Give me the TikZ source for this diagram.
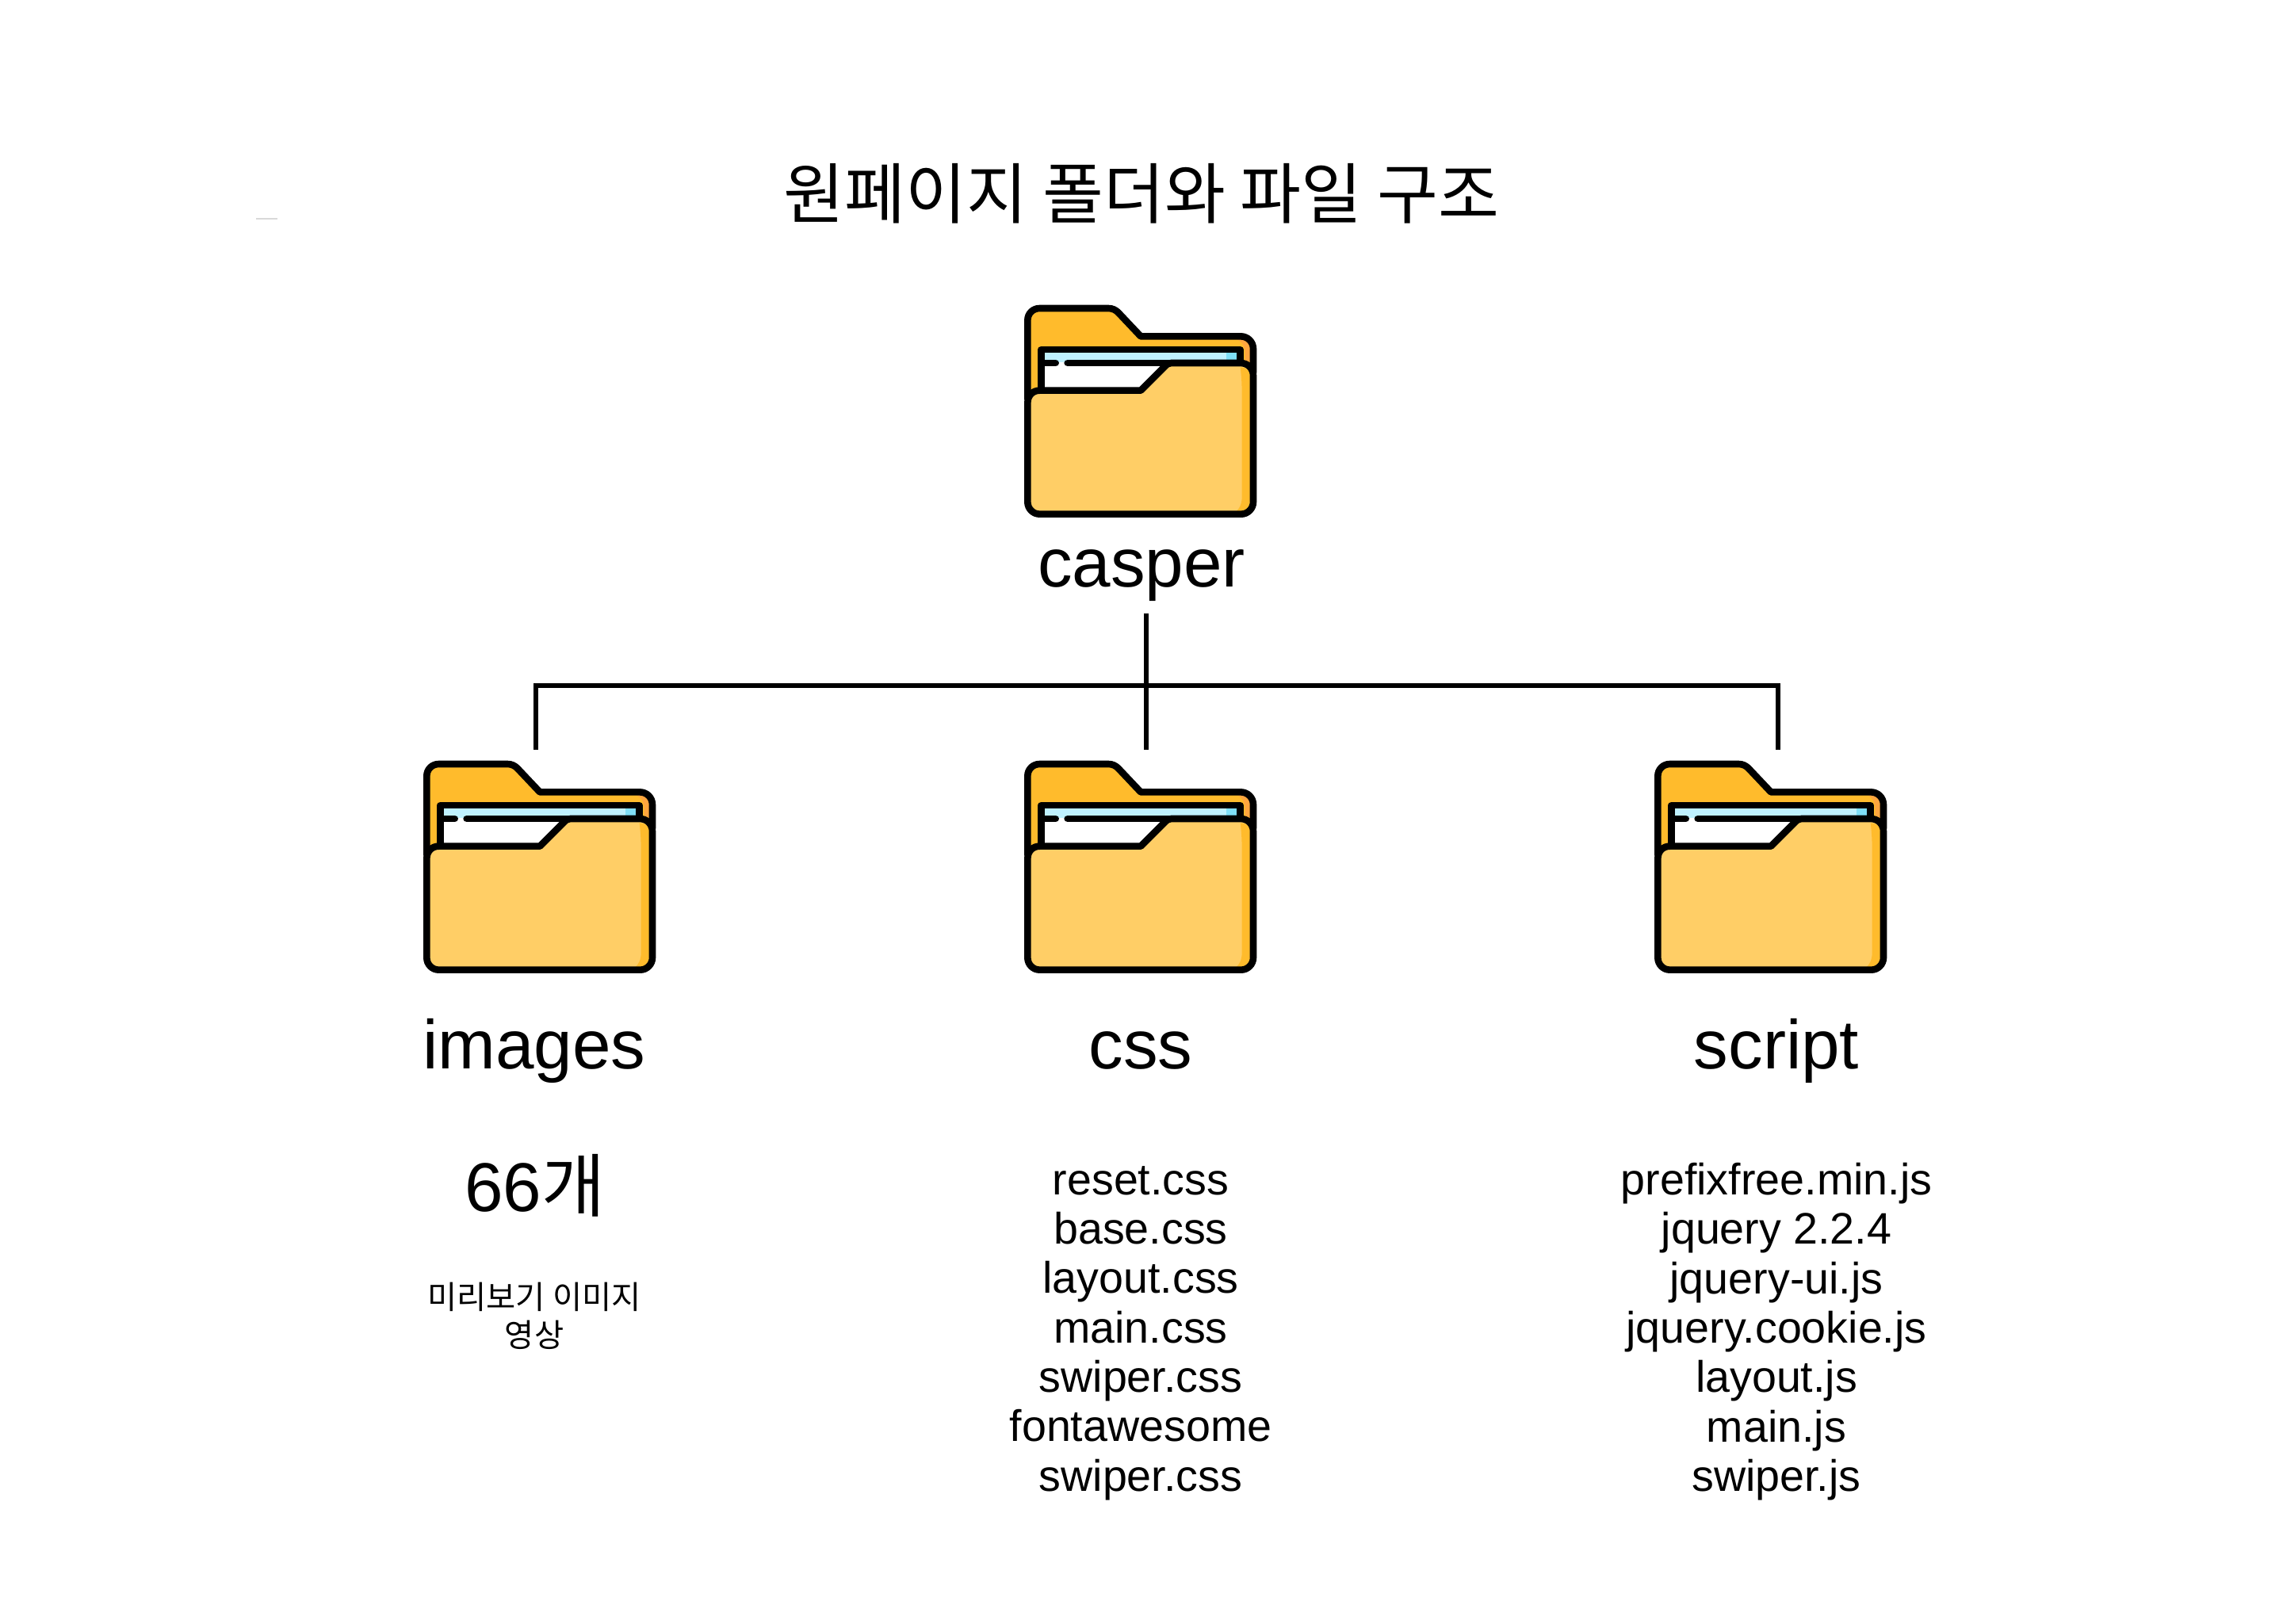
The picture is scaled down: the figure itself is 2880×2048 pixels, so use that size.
\documentclass[tikz,border=0pt]{standalone}
\usepackage{fontspec}
\setmainfont{Liberation Sans}
\newfontfamily\krfont{Noto Sans CJK KR}
\definecolor{foldback}{HTML}{FFBB2C}
\definecolor{foldfront}{HTML}{FFCE66}
\definecolor{foldedge}{HTML}{FFA63F}
\definecolor{tabblue}{HTML}{BFF1FF}
\definecolor{tabdeep}{HTML}{7FDFF7}
\tikzset{
  ink/.style={draw=black,line width=2.15pt,line join=round,line cap=round},
  folderpic/.pic={
    \begin{scope}[scale=1/3]
    % back leaf
    \fill[foldback] (79,420) -- (79,102) .. controls (79,77) and (99,57) .. (124,57) -- (385,57) .. controls (400,57) and (412,63) .. (422,73) -- (507,163) -- (885,163) .. controls (912,163) and (933,184) .. (933,211) -- (933,420) -- cycle;
    \fill[foldedge] (868,172) .. controls (895,185) and (902,205) .. (902,225) -- (902,252) -- (925,262) -- (925,215) .. controls (925,190) and (905,172) .. (880,172) -- cycle;
    % paper
    \fill[white] (131,213) rectangle (883,372);
    \fill[tabblue] (143,225) rectangle (870,262);
    \fill[tabdeep] (830,225) rectangle (870,252);
    \draw[ink] (131,370) -- (131,213) -- (883,213) -- (883,262);
    \draw[ink] (143,264) -- (185,264);
    \draw[ink] (230,264) -- (620,264);
    % back outline
    \draw[ink] (79,400) -- (79,102) .. controls (79,77) and (99,57) .. (124,57) -- (385,57) .. controls (400,57) and (412,63) .. (422,73) -- (507,163) -- (885,163) .. controls (912,163) and (933,184) .. (933,211) -- (933,300);
    % front leaf
    \fill[foldfront] (79,415) .. controls (79,388) and (97,368) .. (125,368) -- (507,368) -- (597,278) .. controls (605,270) and (612,264) .. (622,264) -- (885,264) .. controls (912,264) and (933,285) .. (933,312) -- (933,790) .. controls (933,815) and (912,836) .. (887,836) -- (125,836) .. controls (99,836) and (79,815) .. (79,790) -- cycle;
    \fill[foldback] (884,280) .. controls (890,330) and (890,360) .. (890,400) -- (890,770) .. controls (890,800) and (880,815) .. (868,826) -- (885,826) .. controls (905,826) and (922,810) .. (922,790) -- (922,310) .. controls (922,295) and (905,278) .. (884,280) -- cycle;
    \draw[ink] (79,415) .. controls (79,388) and (97,368) .. (125,368) -- (507,368) -- (597,278) .. controls (605,270) and (612,264) .. (622,264) -- (885,264) .. controls (912,264) and (933,285) .. (933,312) -- (933,790) .. controls (933,815) and (912,836) .. (887,836) -- (125,836) .. controls (99,836) and (79,815) .. (79,790) -- cycle;
    \end{scope}
  },
  titlelabel/.style={inner sep=0pt,anchor=base,font=\krfont\fontsize{20.9}{25}\selectfont},
  folderlabel/.style={inner sep=0pt,anchor=base,font=\fontsize{21.8}{26}\selectfont},
  filelist/.style={inner sep=0pt,anchor=center,align=center,font=\fontsize{13.9}{15.58}\selectfont},
  notelist/.style={inner sep=0pt,anchor=center,align=center,font=\krfont\fontsize{10.1}{12}\selectfont},
  wire/.style={draw=black,line width=1.5pt,line cap=butt}
}
\begin{document}
\begin{tikzpicture}[x=0.25pt,y=-0.25pt]
\fill[white] (0,0) rectangle (2880,2048);
\useasboundingbox (0,0) rectangle (2880,2048);
% stray hairline
\fill[black!15] (323,275) rectangle (350,277);
\node[titlelabel] (title) at (1440,275) {원페이지 폴더와 파일 구조};
\pic at (1270,370) {folderpic};
\pic at (512,945) {folderpic};
\pic at (1270,945) {folderpic};
\pic at (2065,945) {folderpic};
\node[folderlabel] (casper) at (1440,740) {casper};
\node[folderlabel] (images) at (674,1348) {images};
\node[folderlabel] (css) at (1439,1348) {css};
\node[folderlabel] (script) at (2241,1348) {script};
\node[folderlabel] (count) at (675,1528) {66{\krfont 개}};
\node[notelist] (notes) at (674,1660) {미리보기 이미지\\영상};
\node[filelist] (cssfiles) at (1439,1682) {reset.css\\base.css\\layout.css\\main.css\\swiper.css\\fontawesome\\swiper.css};
\node[filelist] (jsfiles) at (2241,1680) {prefixfree.min.js\\jquery 2.2.4\\jquery-ui.js\\jquery.cookie.js\\layout.js\\main.js\\swiper.js};
\coordinate (trunktop) at (1445.5,774);
\coordinate (cssdrop) at (1445.5,946);
\coordinate (imgdrop) at (676,946);
\coordinate (jsdrop) at (2243,946);
\coordinate (bus) at (1445.5,865);
\draw[wire] (trunktop) -- (cssdrop);
\draw[wire] (imgdrop) |- (bus) -| (jsdrop);
\end{tikzpicture}
\end{document}
